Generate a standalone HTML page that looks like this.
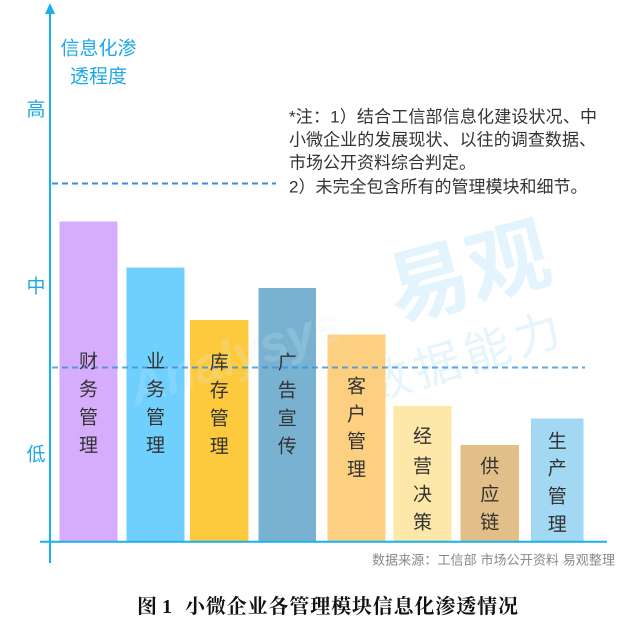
<!DOCTYPE html>
<html>
<head>
<meta charset="utf-8">
<style>
html,body{margin:0;padding:0;background:#fff;}
body{width:629px;height:628px;overflow:hidden;}
svg{display:block;}
text{font-family:"Liberation Sans","Noto Sans CJK SC",sans-serif;}
</style>
</head>
<body>
<svg width="629" height="628" viewBox="0 0 629 628" xmlns="http://www.w3.org/2000/svg">
  <rect x="0" y="0" width="629" height="628" fill="#ffffff"/>

  <!-- watermark (behind) -->
  <text transform="translate(476,300) rotate(-15)" font-size="82" font-weight="bold" fill="#e4f4fc" text-anchor="middle">易观</text>
  <text transform="translate(470,372) rotate(-17)" font-size="46" fill="#e6f5fc" text-anchor="middle" letter-spacing="6">数据能力</text>

  <!-- top dashed line -->
  <line x1="52" y1="183.5" x2="276" y2="183.5" stroke="#3b8ede" stroke-width="2" stroke-dasharray="6,4"/>

  <!-- bars -->
  <rect x="59.5" y="221.5" width="58" height="320" fill="#d6adfc"/>
  <rect x="126.5" y="267.5" width="58" height="274" fill="#6fd0fd"/>
  <rect x="190" y="320" width="58.5" height="221.5" fill="#fdca3e"/>
  <rect x="258.5" y="288" width="57.5" height="253.5" fill="#79b2d0"/>
  <rect x="327.5" y="334.5" width="58" height="207" fill="#fdd081"/>
  <rect x="393.5" y="406" width="58" height="135.5" fill="#fee8a9"/>
  <rect x="460.5" y="445" width="58.5" height="96.5" fill="#e2be88"/>
  <rect x="531" y="418.5" width="52.5" height="123" fill="#a2d8f2"/>

  <!-- faint watermark over bars -->
  <text transform="translate(240,372) rotate(-18)" font-size="50" font-style="italic" font-weight="bold" fill="#d9f0fb" opacity="0.18" text-anchor="middle">Analysys</text>

  <!-- lower dashed line -->
  <line x1="52" y1="367.5" x2="585" y2="367.5" stroke="#3b8ede" stroke-width="2" stroke-dasharray="6,4" opacity="0.8"/>

  <!-- axes -->
  <line x1="50" y1="12" x2="50" y2="563" stroke="#19b0ee" stroke-width="2"/>
  <polygon points="50,3 45,14 55,14" fill="#19b0ee"/>
  <line x1="40" y1="541.7" x2="607" y2="541.7" stroke="#19b0ee" stroke-width="2"/>

  <!-- y-axis title -->
  <text x="98.5" y="49" font-size="19" fill="#1fa8e6" text-anchor="middle" dominant-baseline="central">信息化渗</text>
  <text x="98.5" y="77" font-size="19" fill="#1fa8e6" text-anchor="middle" dominant-baseline="central">透程度</text>

  <!-- y levels -->
  <text x="36" y="110" font-size="19" fill="#1fa8e6" text-anchor="middle" dominant-baseline="central">高</text>
  <text x="36" y="287" font-size="19" fill="#1fa8e6" text-anchor="middle" dominant-baseline="central">中</text>
  <text x="36" y="455" font-size="19" fill="#1fa8e6" text-anchor="middle" dominant-baseline="central">低</text>

  <!-- note -->
  <g font-size="17" fill="#333">
    <text x="289" y="117" dominant-baseline="central" textLength="308" lengthAdjust="spacing">*注：1）结合工信部信息化建设状况、中</text>
    <text x="289" y="140" dominant-baseline="central" textLength="307" lengthAdjust="spacing">小微企业的发展现状、以往的调查数据、</text>
    <text x="289" y="163" dominant-baseline="central">市场公开资料综合判定。</text>
    <text x="289" y="187" dominant-baseline="central">2）未完全包含所有的管理模块和细节。</text>
  </g>

  <!-- bar labels -->
  <g font-size="19" fill="#333" text-anchor="middle" dominant-baseline="central">
    <text x="88.5" y="362" dominant-baseline="central">财</text>
    <text x="88.5" y="390" dominant-baseline="central">务</text>
    <text x="88.5" y="418" dominant-baseline="central">管</text>
    <text x="88.5" y="446" dominant-baseline="central">理</text>

    <text x="155.5" y="362" dominant-baseline="central">业</text>
    <text x="155.5" y="390" dominant-baseline="central">务</text>
    <text x="155.5" y="418" dominant-baseline="central">管</text>
    <text x="155.5" y="446" dominant-baseline="central">理</text>

    <text x="219.3" y="363" dominant-baseline="central">库</text>
    <text x="219.3" y="391" dominant-baseline="central">存</text>
    <text x="219.3" y="419" dominant-baseline="central">管</text>
    <text x="219.3" y="447" dominant-baseline="central">理</text>

    <text x="287.2" y="363" dominant-baseline="central">广</text>
    <text x="287.2" y="391" dominant-baseline="central">告</text>
    <text x="287.2" y="419" dominant-baseline="central">宣</text>
    <text x="287.2" y="447" dominant-baseline="central">传</text>

    <text x="356.5" y="387" dominant-baseline="central">客</text>
    <text x="356.5" y="415" dominant-baseline="central">户</text>
    <text x="356.5" y="442" dominant-baseline="central">管</text>
    <text x="356.5" y="470" dominant-baseline="central">理</text>

    <text x="422.5" y="437" dominant-baseline="central">经</text>
    <text x="422.5" y="467" dominant-baseline="central">营</text>
    <text x="422.5" y="495" dominant-baseline="central">决</text>
    <text x="422.5" y="523" dominant-baseline="central">策</text>

    <text x="489.8" y="467" dominant-baseline="central">供</text>
    <text x="489.8" y="495" dominant-baseline="central">应</text>
    <text x="489.8" y="523" dominant-baseline="central">链</text>

    <text x="557.2" y="442" dominant-baseline="central">生</text>
    <text x="557.2" y="469" dominant-baseline="central">产</text>
    <text x="557.2" y="497" dominant-baseline="central">管</text>
    <text x="557.2" y="525" dominant-baseline="central">理</text>
  </g>

  <!-- source -->
  <text x="372" y="560" font-size="13" fill="#888" dominant-baseline="central" textLength="243" lengthAdjust="spacing">数据来源：工信部 市场公开资料 易观整理</text>

  <!-- caption -->
  <g font-size="20" font-weight="bold" fill="#111" style="font-family:'Liberation Serif','Noto Serif CJK SC',serif;">
    <text x="137" y="607" dominant-baseline="central" style="font-family:'Liberation Serif','Noto Serif CJK SC',serif;">图</text>
    <text x="162" y="607" dominant-baseline="central" style="font-family:'Liberation Serif','Noto Serif CJK SC',serif;">1</text>
    <text x="185" y="607" dominant-baseline="central" textLength="333" lengthAdjust="spacing" style="font-family:'Liberation Serif','Noto Serif CJK SC',serif;">小微企业各管理模块信息化渗透情况</text>
  </g>
</svg>
</body>
</html>
